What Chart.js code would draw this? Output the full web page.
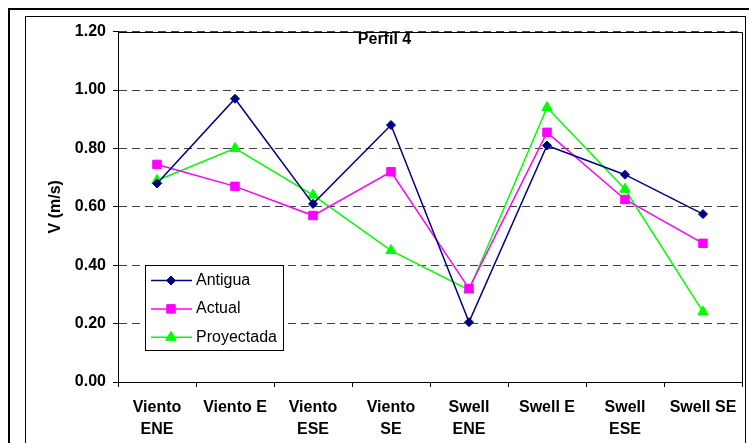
<!DOCTYPE html>
<html>
<head>
<meta charset="utf-8">
<script src="https://cdn.jsdelivr.net/npm/chart.js@4/dist/chart.umd.min.js"></script>
<style>
  html, body { margin: 0; padding: 0; background: #fff; }
  #wrap { position: relative; width: 749px; height: 443px; }
</style>
</head>
<body>
<div id="wrap"><canvas id="c" width="749" height="443"></canvas></div>
<script>
const categories = [['Viento', 'ENE'], 'Viento E', ['Viento', 'ESE'], ['Viento', 'SE'], ['Swell', 'ENE'], 'Swell E', ['Swell', 'ESE'], 'Swell SE'];
const antigua = [0.68, 0.97, 0.61, 0.88, 0.205, 0.81, 0.71, 0.575];
const actual = [0.745, 0.67, 0.57, 0.72, 0.32, 0.855, 0.625, 0.475];
const proyectada = [0.69, 0.80, 0.64, 0.45, 0.315, 0.94, 0.66, 0.24];
const seriesNames = ['Antigua', 'Actual', 'Proyectada'];
const chartTitle = 'Perfil 4';
const yAxisTitle = 'V (m/s)';
const yMin = 0, yMax = 1.2, yStep = 0.2;

const FONT = '"Liberation Sans", Arial, sans-serif';

const framePlugin = {
  id: 'frame',
  beforeDraw(chart) {
    const ctx = chart.ctx;
    ctx.save();
    ctx.fillStyle = '#fff';
    ctx.fillRect(0, 0, chart.width, chart.height);
    ctx.fillStyle = '#000';
    ctx.fillRect(8, 8, chart.width - 8, 2);
    ctx.fillRect(8, 8, 2, chart.height - 8);
    ctx.strokeStyle = '#000';
    ctx.lineWidth = 1;
    ctx.strokeRect(25.5, 16.5, 720, chart.height);
    ctx.restore();
  },
  afterDraw(chart) {
    const ctx = chart.ctx;
    const a = chart.chartArea;
    ctx.save();
    ctx.strokeStyle = '#000';
    ctx.lineWidth = 1;
    ctx.beginPath();
    ctx.moveTo(Math.round(a.left) + 0.5, Math.round(a.top) + 0.5);
    ctx.lineTo(Math.round(a.right) + 0.5, Math.round(a.top) + 0.5);
    ctx.lineTo(Math.round(a.right) + 0.5, Math.round(a.bottom) + 0.5);
    ctx.stroke();

    // legend
    const bx = 145.5, by = 265.5, bw = 138, bh = 85;
    ctx.fillStyle = '#fff';
    ctx.fillRect(bx, by, bw, bh);
    ctx.strokeStyle = '#000';
    ctx.strokeRect(bx, by, bw, bh);
    chart.data.datasets.forEach((ds, i) => {
      const y = 280.5 + i * 28.4;
      ctx.strokeStyle = ds.borderColor;
      ctx.lineWidth = ds.borderWidth;
      ctx.beginPath();
      ctx.moveTo(151, y);
      ctx.lineTo(192, y);
      ctx.stroke();
      ctx.fillStyle = ds.pointBackgroundColor;
      ctx.strokeStyle = ds.pointBorderColor;
      ctx.lineWidth = 1;
      Chart.helpers.drawPoint(ctx, {pointStyle: ds.pointStyle, radius: ds.pointRadius, borderWidth: 1, rotation: 0}, 171, y);
      ctx.fillStyle = '#000';
      ctx.font = '16px ' + FONT;
      ctx.textBaseline = 'middle';
      ctx.textAlign = 'left';
      ctx.fillText(ds.label, 196, y);
    });
    ctx.restore();
  }
};

const colors = ['#000080', '#FF00FF', '#00FF00'];
const styles = ['rectRot', 'rect', 'triangle'];
const radii = [4.5, 6, 6];
const values = [antigua, actual, proyectada];

const datasets = seriesNames.map((name, i) => ({
  label: name,
  data: values[i],
  borderColor: colors[i],
  backgroundColor: colors[i],
  pointBackgroundColor: colors[i],
  pointBorderColor: colors[i],
  pointBorderWidth: 1,
  pointStyle: styles[i],
  pointRadius: radii[i],
  pointHoverRadius: radii[i],
  borderWidth: 1.5,
  tension: 0,
  fill: false
}));

new Chart(document.getElementById('c'), {
  type: 'line',
  data: { labels: categories, datasets },
  plugins: [framePlugin],
  options: {
    responsive: false,
    animation: false,
    events: [],
    layout: { padding: { left: 25, top: 16, right: 5, bottom: 0 } },
    plugins: {
      legend: { display: false },
      tooltip: { enabled: false },
      title: {
        display: true,
        text: chartTitle,
        color: '#000',
        font: { family: FONT, size: 16, weight: 'bold', lineHeight: 1.2 },
        padding: { top: 13.9, bottom: -17.5 }
      }
    },
    scales: {
      x: {
        type: 'category',
        offset: true,
        afterFit(scale) { scale.height = 61; },
        grid: {
          display: true,
          offset: true,
          drawOnChartArea: false,
          drawTicks: true,
          tickLength: 5,
          color: '#000',
          tickColor: '#000'
        },
        border: { display: true, color: '#000', width: 1 },
        ticks: {
          color: '#000',
          autoSkip: false,
          maxRotation: 0,
          minRotation: 0,
          padding: 10,
          font: { family: FONT, size: 16, weight: 'bold', lineHeight: 1.35 }
        }
      },
      y: {
        min: yMin,
        max: yMax,
        afterFit(scale) { scale.width = 93; },
        title: {
          display: true,
          text: yAxisTitle,
          color: '#000',
          font: { family: FONT, size: 16, weight: 'bold', lineHeight: 1.2 },
          padding: { top: 21, bottom: 0 }
        },
        grid: {
          display: true,
          color: '#404040',
          lineWidth: 1,
          drawTicks: true,
          tickLength: 5,
          tickColor: '#000'
        },
        border: { display: true, color: '#000', width: 1, dash: [8, 5] },
        ticks: {
          stepSize: yStep,
          color: '#000',
          padding: 7,
          font: { family: FONT, size: 16, weight: 'bold' },
          callback: (v) => Number(v).toFixed(2)
        }
      }
    }
  }
});
</script>
</body>
</html>
